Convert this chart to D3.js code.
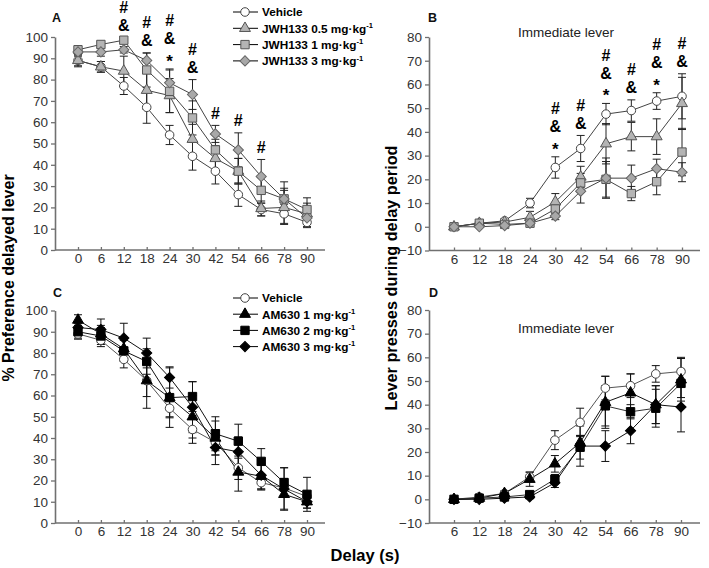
<!DOCTYPE html>
<html>
<head>
<meta charset="utf-8">
<script src="https://cdn.jsdelivr.net/npm/d3@7/dist/d3.min.js"></script>
<style>
  body { margin: 0; background: #fff; }
  svg { display: block; font-family: "Liberation Sans", Arial, sans-serif; }
</style>
</head>
<body>
<svg id="chart" width="709" height="568"></svg>
<script>
// ---------- DATA ----------
const delaysPref = [0, 6, 12, 18, 24, 30, 42, 54, 66, 78, 90];
const delaysPress = [6, 12, 18, 24, 30, 42, 54, 66, 78, 90];
const ticksPref = [0, 10, 20, 30, 40, 50, 60, 70, 80, 90, 100];
const ticksPress = [-10, 0, 10, 20, 30, 40, 50, 60, 70, 80];

// Panel A: % preference delayed lever (JWH133)
const aVehicle   = [89, 86, 77, 67, 54, 44, 37, 26, 19, 17, 13];
const aVehicleE  = [2.5, 2.5, 4, 7.5, 4.5, 6.5, 6, 5.5, 3, 4.5, 2.5];
const aJwh05     = [89, 86, 84, 75, 72.5, 52, 43, 37, 19.5, 20, 17];
const aJwh05E    = [3, 2.5, 7, 9, 8, 7, 6, 6, 3.5, 8, 5];
const aJwh1      = [94, 96.5, 98.5, 84.5, 74.5, 62, 47, 37, 28, 24, 19];
const aJwh1E     = [2, 1.5, 1.5, 8, 10, 8, 5, 6, 6, 5, 5.5];
const aJwh3      = [93, 93, 94, 89, 78.5, 73, 54.5, 47, 34.5, 24, 15];
const aJwh3E     = [2, 2, 1.5, 3.5, 6.5, 7, 4, 8, 8, 8, 4];

// Panel B: lever presses during delay period (JWH133)
const bVehicle   = [0, 1.5, 2.5, 10, 25, 33, 47.5, 49, 53, 55];
const bVehicleE  = [0.5, 0.5, 1, 2, 4.5, 5.5, 4.5, 4.5, 3.5, 9.5];
const bJwh05     = [0, 1.5, 2, 4, 10.5, 21, 35, 38, 38, 52];
const bJwh05E    = [0.5, 0.5, 0.5, 2.5, 3.5, 4.5, 8.5, 6, 7.5, 11];
const bJwh1      = [0, 1.5, 1, 1.5, 7.5, 18.5, 20, 14, 19, 31.5];
const bJwh1E     = [0.5, 0.5, 0.5, 1, 2, 4, 7.5, 3, 5.5, 10];
const bJwh3      = [0, 0, 0.5, 1.5, 4.5, 15, 20.5, 20.5, 24.5, 23];
const bJwh3E     = [0.5, 0.3, 0.5, 0.5, 1.5, 5, 8.5, 5.5, 4, 4];

// Panel C: % preference delayed lever (AM630)
const cVehicle   = [89, 86, 77, 67, 54, 44, 38, 26, 19, 16.5, 12.5];
const cVehicleE  = [2.5, 3, 4, 7.5, 4.5, 6.5, 6, 5.5, 3, 4.5, 2.5];
const cAm1       = [95.5, 89, 82, 67, 59, 50, 40, 24, 22, 13.5, 10];
const cAm1E      = [2.5, 4, 5, 13, 9, 10, 8, 9, 6, 7, 3];
const cAm2       = [90, 88, 81, 76, 59, 59.5, 42, 38.5, 29, 19, 13.5];
const cAm2E      = [3, 4, 5, 6, 14, 7, 8, 8, 6, 7, 8];
const cAm3       = [92, 91, 87, 80, 68.5, 54.5, 35.5, 33.5, 22.5, 16, 10];
const cAm3E      = [2, 5, 7, 7, 5, 12, 8, 7, 7, 10, 3];

// Panel D: lever presses during delay period (AM630)
const dVehicle   = [0, 1, 2.5, 9.5, 25, 32.5, 47, 48, 53, 54];
const dVehicleE  = [0.5, 0.5, 1, 2, 4, 6, 5, 5, 3.5, 6];
const dAm1       = [0, 0.5, 2.5, 8.5, 15, 24, 41, 45, 40, 50.5];
const dAm1E      = [0.5, 0.5, 1, 3, 3.5, 3, 11, 8, 8, 9];
const dAm2       = [0, 0.5, 1, 2, 8.5, 22, 39.5, 37, 38.5, 49];
const dAm2E      = [0.5, 0.5, 0.5, 1, 2, 5, 8.5, 3, 8, 6];
const dAm3       = [0, 0, 0.5, 1, 7, 22.5, 22.5, 29, 40, 39];
const dAm3E      = [0.5, 0.3, 0.5, 0.5, 2, 8.5, 6.5, 5.5, 8, 10.5];

// Legend labels
const jwhLabels = ["Vehicle", "JWH133 0.5 mg·kg", "JWH133 1 mg·kg", "JWH133 3 mg·kg"];
const amLabels  = ["Vehicle", "AM630 1 mg·kg", "AM630 2 mg·kg", "AM630 3 mg·kg"];

// Significance marks
const sigA = [[12, "#&"], [18, "#&"], [24, "#&*"], [30, "#&"], [42, "#"], [54, "#"], [66, "#"]];
const sigB = [[30, "#&*"], [42, "#&"], [54, "#&*"], [66, "#&"], [78, "#&*"], [90, "#&"]];

// ---------- STYLES ----------
const svg = d3.select("#chart");
const axisColor = "#707070";

const shapeCircle = d3.symbol().type(d3.symbolCircle).size(58)();
const shapeSquare = d3.symbol().type(d3.symbolSquare).size(70)();
const shapeTri = d3.symbol().type(d3.symbolTriangle).size(52)();
const shapeDiamond = d3.symbol().type(d3.symbolSquare).size(52)();

const jwhStyles = [
  {shape: shapeCircle, fill: "#fff", stroke: "#444", rot: 0},
  {shape: shapeTri, fill: "#b4b4b4", stroke: "#555", rot: 0},
  {shape: shapeSquare, fill: "#b4b4b4", stroke: "#555", rot: 0},
  {shape: shapeDiamond, fill: "#a8a8a8", stroke: "#666", rot: 45}
];
const amStyles = [
  {shape: shapeCircle, fill: "#fff", stroke: "#444", rot: 0},
  {shape: shapeTri, fill: "#000", stroke: "#000", rot: 0},
  {shape: shapeSquare, fill: "#000", stroke: "#000", rot: 0},
  {shape: shapeDiamond, fill: "#000", stroke: "#000", rot: 45}
];

function panel(cfg) {
  const g = svg.append("g");
  const x = d3.scalePoint().domain(cfg.cats).range([cfg.px0, cfg.px1]);
  const y = d3.scaleLinear().domain(cfg.yDomain).range([cfg.yBottom, cfg.yTop]);

  // y axis
  const ya = g.append("g").attr("transform", `translate(${cfg.axisX},0)`)
    .call(d3.axisLeft(y).tickValues(cfg.yTicks).tickSizeInner(4).tickSizeOuter(0).tickPadding(3));
  ya.select(".domain").attr("stroke", axisColor).attr("stroke-width", 1.6);
  ya.selectAll(".tick line").attr("stroke", axisColor).attr("stroke-width", 1.3);
  ya.selectAll(".tick text").attr("font-size", 13.5).attr("fill", "#333")
    .attr("font-family", "Liberation Sans, Arial, sans-serif");

  // x axis
  const xa = g.append("g").attr("transform", `translate(0,${cfg.yBottom})`)
    .call(d3.axisBottom(x).tickSizeInner(-3).tickSizeOuter(0).tickPadding(3.5));
  xa.select(".domain").remove();
  xa.selectAll(".tick line").attr("stroke", axisColor).attr("stroke-width", 1.3);
  xa.selectAll(".tick text").attr("font-size", 13.5).attr("fill", "#333")
    .attr("font-family", "Liberation Sans, Arial, sans-serif");
  g.append("line").attr("x1", cfg.axisX).attr("x2", cfg.axisEnd)
    .attr("y1", cfg.yBottom).attr("y2", cfg.yBottom)
    .attr("stroke", axisColor).attr("stroke-width", 1.6);

  // panel letter
  g.append("text").attr("x", cfg.letterX).attr("y", cfg.letterY).text(cfg.letter)
    .attr("font-size", 12.5).attr("font-weight", "bold").attr("fill", "#111");

  // lines
  const line = d3.line().x((d, i) => x(cfg.cats[i])).y(d => y(d));
  cfg.series.forEach((s, k) => {
    g.append("path").attr("d", line(s.v)).attr("fill", "none")
      .attr("stroke", cfg.lineColors[k]).attr("stroke-width", 1);
  });
  // error bars
  cfg.series.forEach((s, k) => {
    s.v.forEach((v, i) => {
      const cx = x(cfg.cats[i]);
      const e = s.e[i];
      const y1 = y(v + e), y2 = y(v - e);
      g.append("line").attr("x1", cx).attr("x2", cx).attr("y1", y1).attr("y2", y2)
        .attr("stroke", cfg.errColor).attr("stroke-width", 1);
      [y1, y2].forEach(yy => g.append("line").attr("x1", cx - 4).attr("x2", cx + 4)
        .attr("y1", yy).attr("y2", yy).attr("stroke", cfg.errColor).attr("stroke-width", 1));
    });
  });
  // markers
  cfg.series.forEach((s, k) => {
    const st = cfg.styles[k];
    s.v.forEach((v, i) => {
      g.append("path").attr("d", st.shape)
        .attr("transform", `translate(${x(cfg.cats[i])},${y(v)}) rotate(${st.rot})`)
        .attr("fill", st.fill).attr("stroke", st.stroke).attr("stroke-width", 1);
    });
  });

  // significance
  (cfg.sig || []).forEach(([cat, marks]) => {
    const i = cfg.cats.indexOf(cat);
    const top = d3.max(cfg.series, s => s.v[i] + s.e[i]);
    let cy = y(top) - 12;
    const chars = marks.split("").reverse();
    chars.forEach((ch, j) => {
      const c = cy - j * 18;
      g.append("text").attr("x", x(cat)).attr("y", c + (ch === "*" ? 10 : 5.5))
        .attr("text-anchor", "middle").attr("font-size", ch === "*" ? 17 : 16)
        .attr("font-weight", "bold").attr("fill", "#000").text(ch);
    });
  });

  // note
  if (cfg.note) {
    g.append("text").attr("x", cfg.note.x).attr("y", cfg.note.y).attr("text-anchor", "middle")
      .attr("font-size", 13.5).attr("fill", "#222").text("Immediate lever");
  }

  // legend
  if (cfg.legend) {
    const L = cfg.legend;
    L.labels.forEach((lab, k) => {
      const yy = L.y + k * L.dy;
      const st = cfg.styles[k];
      g.append("line").attr("x1", L.x).attr("x2", L.x + 25).attr("y1", yy).attr("y2", yy)
        .attr("stroke", "#000").attr("stroke-width", 1);
      g.append("path").attr("d", st.shape)
        .attr("transform", `translate(${L.x + 12},${yy}) rotate(${st.rot})`)
        .attr("fill", st.fill).attr("stroke", st.stroke).attr("stroke-width", 1);
      const t = g.append("text").attr("x", L.x + 29).attr("y", yy + 4.3)
        .attr("font-size", 11.8).attr("font-weight", "bold").attr("fill", "#000");
      t.append("tspan").text(lab);
      if (k > 0) t.append("tspan").attr("font-size", 7.5).attr("dy", -4.5).text("-1");
    });
  }
}

panel({
  cats: delaysPref, px0: 78, px1: 307, axisX: 55, axisEnd: 325,
  yDomain: [0, 100], yBottom: 250, yTop: 37, yTicks: ticksPref,
  letter: "A", letterX: 52, letterY: 22,
  series: [{v: aVehicle, e: aVehicleE}, {v: aJwh05, e: aJwh05E}, {v: aJwh1, e: aJwh1E}, {v: aJwh3, e: aJwh3E}],
  styles: jwhStyles, lineColors: ["#444", "#444", "#444", "#444"], errColor: "#222",
  sig: sigA,
  legend: {labels: jwhLabels, x: 233, y: 12, dy: 16.3}
});
panel({
  cats: delaysPress, px0: 454, px1: 682, axisX: 429, axisEnd: 700,
  yDomain: [-10, 80], yBottom: 250.5, yTop: 37, yTicks: ticksPress,
  letter: "B", letterX: 428, letterY: 22,
  series: [{v: bVehicle, e: bVehicleE}, {v: bJwh05, e: bJwh05E}, {v: bJwh1, e: bJwh1E}, {v: bJwh3, e: bJwh3E}],
  styles: jwhStyles, lineColors: ["#444", "#444", "#444", "#444"], errColor: "#222",
  sig: sigB,
  note: {x: 566, y: 37}
});
panel({
  cats: delaysPref, px0: 78, px1: 307, axisX: 55, axisEnd: 325,
  yDomain: [0, 100], yBottom: 523, yTop: 310.5, yTicks: ticksPref,
  letter: "C", letterX: 53, letterY: 297,
  series: [{v: cVehicle, e: cVehicleE}, {v: cAm1, e: cAm1E}, {v: cAm2, e: cAm2E}, {v: cAm3, e: cAm3E}],
  styles: amStyles, lineColors: ["#555", "#111", "#111", "#111"], errColor: "#111",
  legend: {labels: amLabels, x: 233, y: 298, dy: 16.2}
});
panel({
  cats: delaysPress, px0: 454, px1: 681, axisX: 429, axisEnd: 700,
  yDomain: [-10, 80], yBottom: 523, yTop: 310, yTicks: ticksPress,
  letter: "D", letterX: 429, letterY: 297,
  series: [{v: dVehicle, e: dVehicleE}, {v: dAm1, e: dAm1E}, {v: dAm2, e: dAm2E}, {v: dAm3, e: dAm3E}],
  styles: amStyles, lineColors: ["#555", "#111", "#333", "#111"], errColor: "#111",
  note: {x: 566, y: 333}
});

// axis titles
svg.append("text").attr("transform", "translate(13.5,278) rotate(-90)").attr("text-anchor", "middle")
  .attr("font-size", 16).attr("font-weight", "bold").attr("fill", "#000").text("% Preference delayed lever");
svg.append("text").attr("transform", "translate(396.5,278) rotate(-90)").attr("text-anchor", "middle")
  .attr("font-size", 16.3).attr("font-weight", "bold").attr("fill", "#000").text("Lever presses during delay period");
svg.append("text").attr("x", 365).attr("y", 561).attr("text-anchor", "middle")
  .attr("font-size", 16.5).attr("font-weight", "bold").attr("fill", "#000").text("Delay (s)");
</script>
</body>
</html>
